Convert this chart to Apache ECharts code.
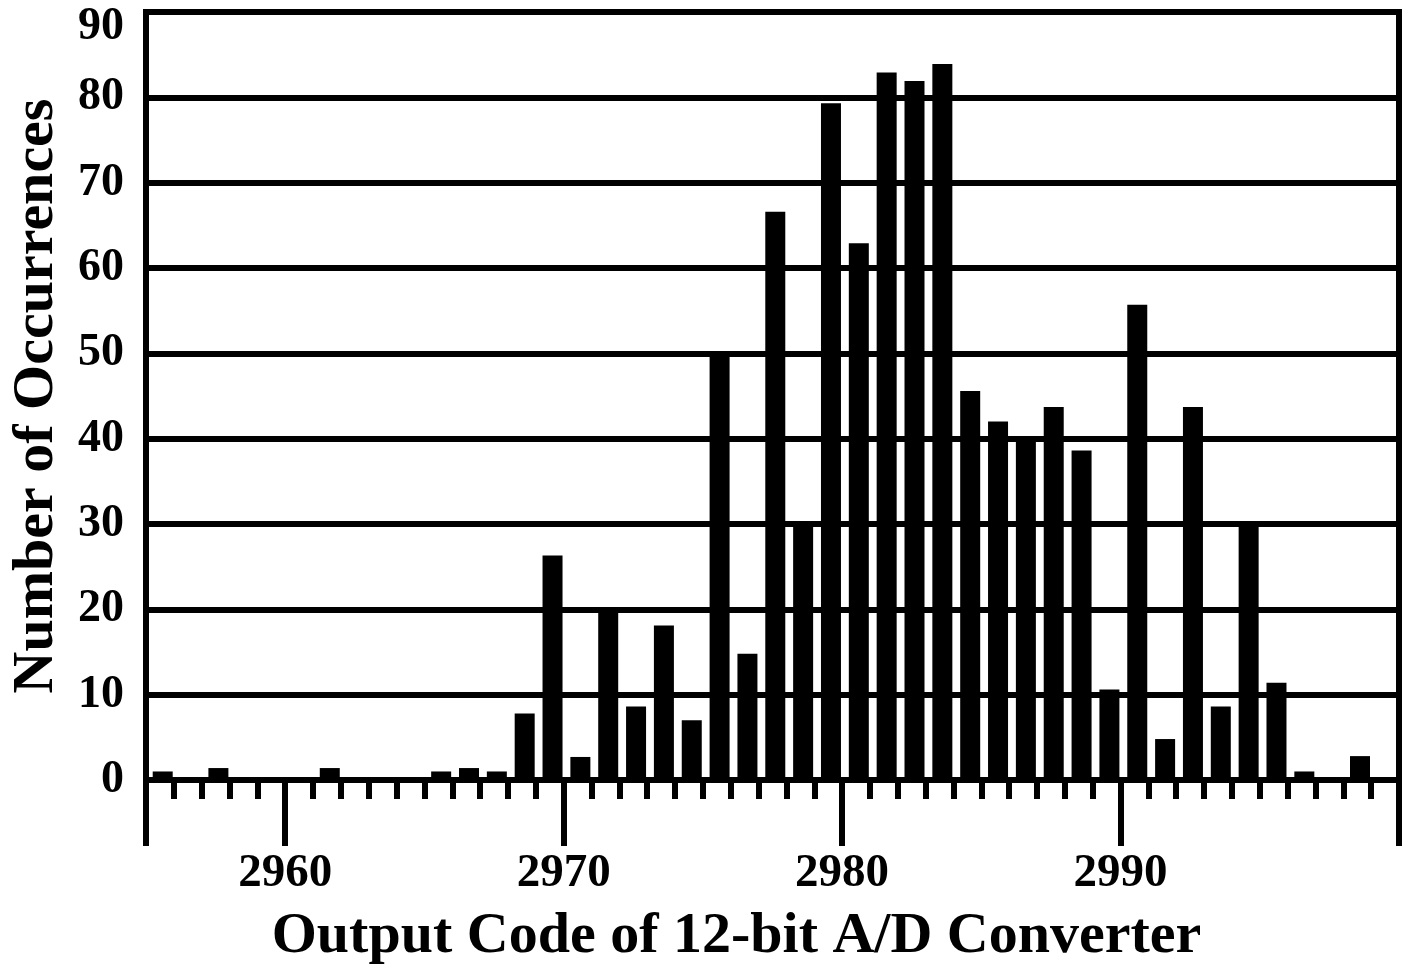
<!DOCTYPE html>
<html>
<head>
<meta charset="utf-8">
<script src="https://cdn.jsdelivr.net/npm/echarts@6/dist/echarts.min.js"></script>
<style>
html,body{margin:0;padding:0;background:#fff;}
#chart{width:1406px;height:971px;}
</style>
</head>
<body>
<div id="chart"></div>
<script>
// Output codes (each bar spans code .. code+1)
const codes = [2955, 2957, 2961, 2965, 2966, 2967, 2968, 2969, 2970, 2971, 2972, 2973,
  2974, 2975, 2976, 2977, 2978, 2979, 2980, 2981, 2982, 2983, 2984, 2985, 2986,
  2987, 2988, 2989, 2990, 2991, 2992, 2993, 2994, 2995, 2996, 2998];
// Number of occurrences per code
const counts = [1, 1.4, 1.4, 1, 1.4, 1, 7.8, 26.3, 2.7, 20, 8.6, 18.1,
  7, 50.2, 14.8, 66.6, 30.3, 79.3, 62.9, 82.9, 81.9, 83.9, 45.6, 42, 40,
  43.7, 38.6, 10.6, 55.7, 4.8, 43.7, 8.6, 30, 11.4, 1, 2.8];
const xLabelValues = [2960, 2970, 2980, 2990];
const xMajorTickValues = [2955, 2960, 2970, 2980, 2990, 3000];
const yTicks = [0, 10, 20, 30, 40, 50, 60, 70, 80, 90];

const FONT = "'Liberation Serif', 'Times New Roman', serif";
const chart = echarts.init(document.getElementById('chart'));
const barData = codes.map((c, i) => [c + 0.6, counts[i]]);

chart.setOption({
  backgroundColor: '#ffffff',
  animation: false,
  grid: {
    left: 145, right: 7, top: 12, bottom: 187,
    show: true, borderColor: '#000', borderWidth: 6, backgroundColor: 'transparent'
  },
  xAxis: [
    {
      type: 'value', min: 2955, max: 3000, interval: 1,
      axisLine: { show: true, onZero: false, lineStyle: { color: '#000', width: 6 } },
      axisTick: { show: true, length: 19, lineStyle: { color: '#000', width: 6 } },
      axisLabel: { show: false },
      splitLine: { show: false }
    },
    {
      type: 'value', min: 2955, max: 3000, position: 'bottom',
      axisLine: { show: false },
      axisTick: { show: true, length: 66, customValues: xMajorTickValues, lineStyle: { color: '#000', width: 6 } },
      axisLabel: {
        show: true, customValues: xLabelValues, margin: 70,
        formatter: function (v) { return String(v); },
        color: '#000', fontFamily: FONT, fontWeight: 'bold', fontSize: 47
      },
      splitLine: { show: false },
      name: 'Output Code of 12-bit A/D Converter',
      nameLocation: 'middle', nameGap: 128,
      nameTextStyle: { color: '#000', fontFamily: FONT, fontWeight: 'bold', fontSize: 58, padding: [0, 72, 0, 0] }
    }
  ],
  yAxis: {
    type: 'value', min: 0, max: 90, interval: 10,
    axisLine: { show: true, lineStyle: { color: '#000', width: 6 } },
    axisTick: { show: false },
    splitLine: { show: true, lineStyle: { color: '#000', width: 6 } },
    axisLabel: {
      margin: 22, color: '#000', fontFamily: FONT, fontWeight: 'bold', fontSize: 46,
      formatter: function (v) { return v === yTicks[yTicks.length - 1] ? '{top|' + v + '}' : String(v); },
      rich: { top: { padding: [30, 0, 0, 0], color: '#000', fontFamily: FONT, fontWeight: 'bold', fontSize: 46 } }
    },
    name: 'Number of Occurrences',
    nameLocation: 'middle', nameGap: 80,
    nameTextStyle: { color: '#000', fontFamily: FONT, fontWeight: 'bold', fontSize: 58 }
  },
  series: [{
    type: 'bar', xAxisIndex: 0, yAxisIndex: 0,
    data: barData, barWidth: 20,
    itemStyle: { color: '#000' },
    z: 3
  }]
});
</script>
</body>
</html>
